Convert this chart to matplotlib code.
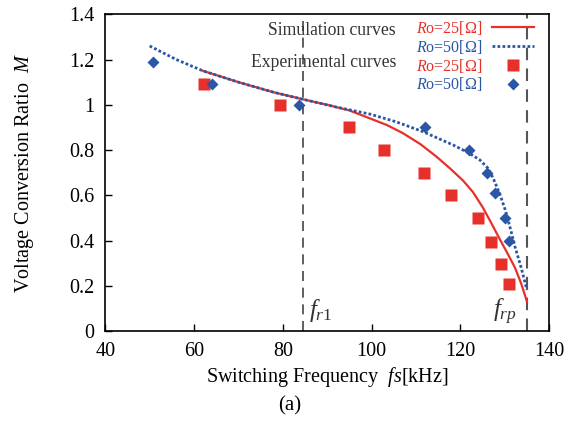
import matplotlib
matplotlib.use('Agg')
import matplotlib.pyplot as plt
from matplotlib.lines import Line2D

plt.rcParams['font.family'] = ['Liberation Serif', 'DejaVu Serif']
plt.rcParams['mathtext.fontset'] = 'custom'
plt.rcParams['mathtext.rm'] = 'Liberation Serif'
plt.rcParams['mathtext.it'] = 'Liberation Serif:italic'

RED = '#e8302a'
BLUE = '#2b55a5'

# simulation curves
sim25_f = [62, 70, 78, 84.6, 90, 95, 99.6, 103.5, 107.1, 111, 114.6, 117.6, 120.6, 122.8, 125, 127, 128.9, 130.7, 132.3, 133.7, 135.0]
sim25_m = [1.15, 1.10, 1.055, 1.024, 1.00, 0.975, 0.94, 0.91, 0.874, 0.826, 0.771, 0.72, 0.665, 0.615, 0.548, 0.476, 0.405, 0.34, 0.28, 0.21, 0.13]
sim50_f = [50, 56, 62, 70, 78, 84.6, 92, 99.6, 105.5, 111.6, 118.4, 122, 124.4, 126.2, 127.4, 128.9, 130.2, 131.3, 132.3, 133.7, 135.0]
sim50_m = [1.26, 1.20, 1.15, 1.10, 1.055, 1.024, 0.99, 0.959, 0.925, 0.881, 0.822, 0.786, 0.756, 0.72, 0.675, 0.605, 0.53, 0.45, 0.373, 0.28, 0.181]

# experimental points
exp25_f = [62.3, 79.4, 95, 102.8, 111.8, 118, 124, 127, 129.1, 131]
exp25_m = [1.09, 1.00, 0.90, 0.80, 0.70, 0.60, 0.50, 0.395, 0.295, 0.21]
exp50_f = [50.7, 64, 83.7, 112, 121.9, 125.9, 127.9, 130, 131]
exp50_m = [1.19, 1.09, 1.00, 0.90, 0.80, 0.70, 0.61, 0.50, 0.40]

fr1 = 84.6
frp = 135.1

fig = plt.figure(figsize=(5.8, 4.28), dpi=100)
ax = fig.add_axes([0.1815, 0.2266, 0.7653, 0.74])

ax.axvline(fr1, color='#444444', lw=1.2, ls=(0, (6, 4)))
ax.axvline(frp, color='#555555', lw=1.5, ls=(0, (6, 4)))

ax.plot(sim25_f, sim25_m, color=RED, lw=1.6)
ax.plot(sim50_f, sim50_m, color=BLUE, lw=2.0, ls=(0, (1, 0.8)))
ax.plot(exp25_f, exp25_m, 's', color=RED, ms=8.5, mec='none')
ax.plot(exp50_f, exp50_m, 'D', color=BLUE, ms=6.5, mec='none')

ax.set_xlim(40, 140)
ax.set_ylim(0, 1.4)
ax.set_xticks([40, 60, 80, 100, 120, 140])
ax.set_xticklabels(['40', '60', '80', '100', '120', '140'])
ax.set_yticks([0, 0.2, 0.4, 0.6, 0.8, 1.0, 1.2, 1.4])
ax.set_yticklabels(['0', '0.2', '0.4', '0.6', '0.8', '1', '1.2', '1.4'])
ax.tick_params(direction='in', length=5, width=1, labelsize=14.5, pad=8)
for s in ax.spines.values():
    s.set_linewidth(1.2)

ax.set_xlabel('Switching Frequency  $fs$[kHz]', fontsize=14.5, labelpad=3)
ax.set_ylabel('Voltage Conversion Ratio  $M$', fontsize=14.5)
ax.yaxis.set_label_coords(-0.155, 0.5)

ax.text(fr1 + 1.3, 0.06, '$f_{r1}$', fontsize=18, color='#333333')
ax.text(frp - 2.3, 0.06, '$f_{rp}$', fontsize=18, color='#333333', ha='right')

ax.text(0.655, 0.950, 'Simulation curves', transform=ax.transAxes, ha='right', va='center', fontsize=12.7, color='#333333')
ax.text(0.655, 0.849, 'Experimental curves', transform=ax.transAxes, ha='right', va='center', fontsize=12.7, color='#333333')

handles = [
    Line2D([], [], color=RED, lw=1.6),
    Line2D([], [], color=BLUE, lw=2.0, ls=(0, (1, 0.8))),
    Line2D([], [], marker='s', color=RED, ls='none', ms=8.5, mec='none'),
    Line2D([], [], marker='D', color=BLUE, ls='none', ms=6.5, mec='none'),
]
labels = ['$R$o=25[Ω]', '$R$o=50[Ω]', '$R$o=25[Ω]', '$R$o=50[Ω]']
ax.legend(handles, labels, loc='upper right', bbox_to_anchor=(0.965, 0.985),
          frameon=False, markerfirst=False, fontsize=11.5, handlelength=2.6,
          handletextpad=0.6, labelspacing=0.05, borderpad=0, borderaxespad=0,
          labelcolor=[RED, BLUE, RED, BLUE])

fig.text(0.5, 0.052, '(a)', ha='center', va='center', fontsize=15)

fig.savefig('out.png', dpi=100)
